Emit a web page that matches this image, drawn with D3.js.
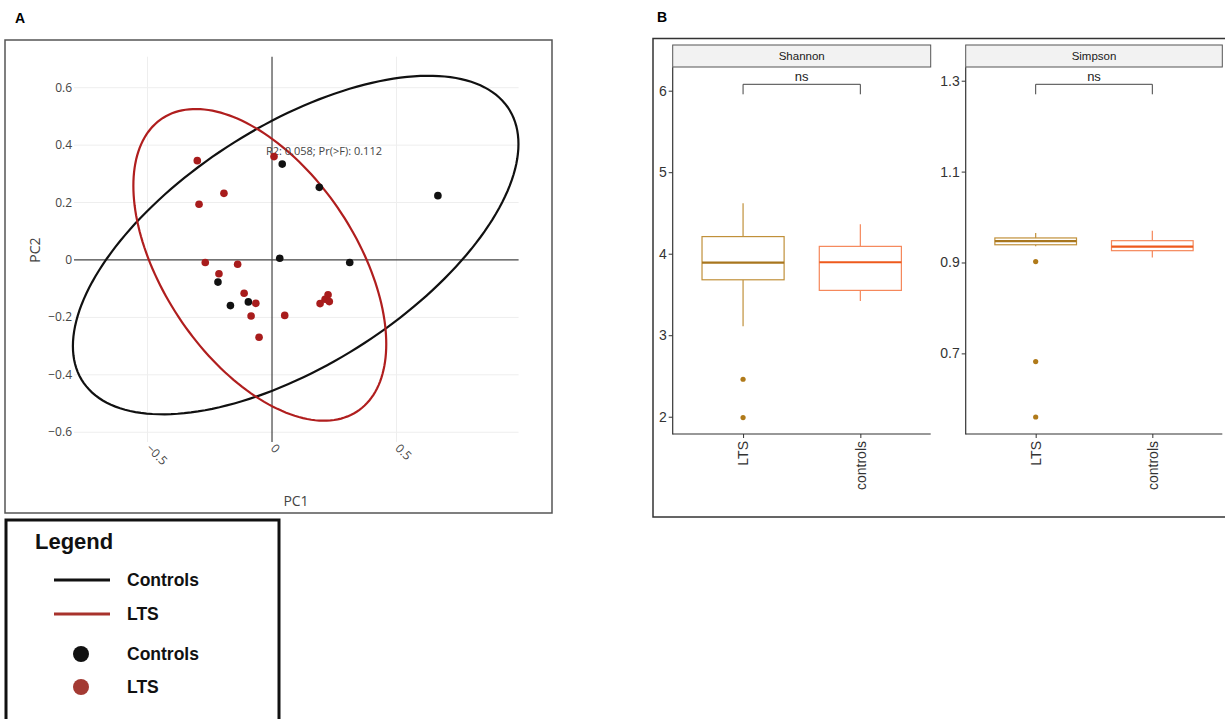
<!DOCTYPE html>
<html>
<head>
<meta charset="utf-8">
<script src="https://cdn.jsdelivr.net/npm/d3@7"></script>
<style>
body { margin: 0; background: #fff; }
svg { display: block; }
</style>
</head>
<body>
<svg id="mainSVG" width="1225" height="719"></svg>
<script>
// ---- data ----
var pcoaTicksX = [-0.5, 0, 0.5];
var pcoaTicksY = [-0.6, -0.4, -0.2, 0, 0.2, 0.4, 0.6];

var ltsPC1 = [-0.300, 0.008, -0.193, -0.293, -0.268, -0.138, -0.213, -0.112, -0.065, -0.084, 0.051, -0.052, 0.193, 0.213, 0.225, 0.230];
var ltsPC2 = [0.346, 0.360, 0.232, 0.194, -0.009, -0.015, -0.048, -0.116, -0.151, -0.195, -0.193, -0.269, -0.152, -0.137, -0.121, -0.145];
var ctlPC1 = [0.041, 0.190, 0.031, 0.312, -0.217, -0.167, -0.095, 0.666];
var ctlPC2 = [0.334, 0.253, 0.006, -0.009, -0.077, -0.159, -0.146, 0.224];

// ellipse: centre x, centre y, var x, cov xy, var y (data units)
var ctlEllipse = [0.095, 0.052, 0.800, 0.3147, 0.3476];
var ltsEllipse = [-0.049, -0.017, 0.2577, -0.1398, 0.2947];

var groups = ["LTS", "controls"];
// whisker low, q1, median, q3, whisker high
var shannonStats = [[3.11, 3.68, 3.89, 4.21, 4.62], [3.42, 3.55, 3.895, 4.09, 4.36]];
var shannonOut = [[2.46, 1.99], []];
var shannonTicks = [2, 3, 4, 5, 6];
var simpsonStats = [[0.936, 0.939, 0.947, 0.954, 0.965], [0.911, 0.926, 0.935, 0.948, 0.970]];
var simpsonOut = [[0.902, 0.682, 0.560], []];
var simpsonTicks = [0.7, 0.9, 1.1, 1.3];

var svg = d3.select("#mainSVG");

// ---------------- panel A ----------------
svg.append("text").attr("x", 15).attr("y", 23)
  .attr("font-family", "Liberation Sans, Arial").attr("font-weight", "bold")
  .attr("font-size", 14).text("A");

svg.append("rect").attr("x", 5).attr("y", 40).attr("width", 547).attr("height", 473)
  .attr("fill", "none").attr("stroke", "#555").attr("stroke-width", 1.5);

var xA = d3.scaleLinear().domain([-0.795, 0.99]).range([74, 518.6]);
var yA = d3.scaleLinear().domain([-0.634, 0.708]).range([442, 56.7]);

var gA = svg.append("g").attr("font-family", "Open Sans, sans-serif");

// grid
gA.selectAll(".gx").data(pcoaTicksX.filter(function(d){ return d != 0; })).enter().append("line")
  .attr("x1", function(d){ return xA(d); }).attr("x2", function(d){ return xA(d); })
  .attr("y1", yA.range()[1]).attr("y2", yA.range()[0])
  .attr("stroke", "#eee").attr("stroke-width", 1);
gA.selectAll(".gy").data(pcoaTicksY.filter(function(d){ return d != 0; })).enter().append("line")
  .attr("x1", xA.range()[0]).attr("x2", xA.range()[1])
  .attr("y1", function(d){ return yA(d); }).attr("y2", function(d){ return yA(d); })
  .attr("stroke", "#eee").attr("stroke-width", 1);

// zero lines
gA.append("line").attr("x1", xA(0)).attr("x2", xA(0)).attr("y1", yA.range()[1]).attr("y2", yA.range()[0])
  .attr("stroke", "#444").attr("stroke-width", 1.2);
gA.append("line").attr("x1", xA.range()[0]).attr("x2", xA.range()[1]).attr("y1", yA(0)).attr("y2", yA(0))
  .attr("stroke", "#444").attr("stroke-width", 1.2);

// tick labels
gA.selectAll(".ty").data(pcoaTicksY).enter().append("text")
  .attr("x", xA.range()[0] - 2).attr("y", function(d){ return yA(d) + 4; })
  .attr("text-anchor", "end").attr("font-size", 12).attr("fill", "#444")
  .text(function(d){ return d == 0 ? "0" : d3.format(".1f")(d).replace("-", "\u2212"); });
gA.selectAll(".tx").data(pcoaTicksX).enter().append("text")
  .attr("transform", function(d){ return "translate(" + (xA(d) - 2) + ",449) rotate(45)"; })
  .attr("font-size", 12).attr("fill", "#444")
  .text(function(d){ return d == 0 ? "0" : d3.format(".1f")(d).replace("-", "\u2212"); });

gA.append("text").attr("x", 296).attr("y", 506).attr("text-anchor", "middle")
  .attr("font-size", 14).attr("fill", "#444").text("PC1");
gA.append("text").attr("transform", "translate(40,250) rotate(-90)").attr("text-anchor", "middle")
  .attr("font-size", 14).attr("fill", "#444").text("PC2");

// ellipses
function ellipsePoints(e){
  var l11 = Math.sqrt(e[2]), l21 = e[3] / l11, l22 = Math.sqrt(e[4] - l21 * l21);
  return d3.range(0, 2 * Math.PI + 0.01, Math.PI / 90).map(function(t){
    return [e[0] + l11 * Math.cos(t), e[1] + l21 * Math.cos(t) + l22 * Math.sin(t)];
  });
}
var ellLine = d3.line().x(function(d){ return xA(d[0]); }).y(function(d){ return yA(d[1]); });
gA.append("path").attr("d", ellLine(ellipsePoints(ctlEllipse)))
  .attr("fill", "none").attr("stroke", "#111").attr("stroke-width", 2.2);
gA.append("path").attr("d", ellLine(ellipsePoints(ltsEllipse)))
  .attr("fill", "none").attr("stroke", "#b01e1e").attr("stroke-width", 2.2);

gA.append("text").attr("x", 266).attr("y", 155).attr("font-size", 11).attr("fill", "#444")
  .text("R2: 0.058; Pr(>F): 0.112");

// points
gA.selectAll(".pl").data(d3.range(ltsPC1.length)).enter().append("circle")
  .attr("cx", function(i){ return xA(ltsPC1[i]); }).attr("cy", function(i){ return yA(ltsPC2[i]); })
  .attr("r", 3.8).attr("fill", "#a81c1c");
gA.selectAll(".pc").data(d3.range(ctlPC1.length)).enter().append("circle")
  .attr("cx", function(i){ return xA(ctlPC1[i]); }).attr("cy", function(i){ return yA(ctlPC2[i]); })
  .attr("r", 3.8).attr("fill", "#111");

// legend
var gL = svg.append("g").attr("font-family", "Liberation Sans, Arial").attr("font-weight", "bold");
gL.append("rect").attr("x", 6).attr("y", 520).attr("width", 273).attr("height", 220)
  .attr("fill", "none").attr("stroke", "#111").attr("stroke-width", 3);
gL.append("text").attr("x", 35).attr("y", 549).attr("font-size", 22).attr("fill", "#111").text("Legend");
var legItems = [
  {type: "line", color: "#111", label: "Controls", y: 580},
  {type: "line", color: "#a8322c", label: "LTS", y: 614},
  {type: "dot", color: "#111", label: "Controls", y: 654},
  {type: "dot", color: "#a33a33", label: "LTS", y: 687}
];
legItems.forEach(function(it){
  if (it.type == "line") {
    gL.append("line").attr("x1", 54).attr("x2", 110).attr("y1", it.y).attr("y2", it.y)
      .attr("stroke", it.color).attr("stroke-width", 3);
  } else {
    gL.append("circle").attr("cx", 81).attr("cy", it.y).attr("r", 8).attr("fill", it.color);
  }
  gL.append("text").attr("x", 127).attr("y", it.y + 6).attr("font-size", 17.5).attr("fill", "#111").text(it.label);
});

// ---------------- panel B ----------------
svg.append("text").attr("x", 657).attr("y", 22)
  .attr("font-family", "Liberation Sans, Arial").attr("font-weight", "bold")
  .attr("font-size", 14).text("B");
svg.append("rect").attr("x", 653).attr("y", 38.5).attr("width", 600).attr("height", 478.5)
  .attr("fill", "none").attr("stroke", "#333").attr("stroke-width", 1.5);

var boxColors = ["#c0903a", "#f5875a"];
var medColors = ["#a8761e", "#ee5a1c"];
var outColor = "#b07a1a";

function facet(x0, x1, domain, ticks, fmt, stats, outs, title){
  var g = svg.append("g").attr("font-family", "Liberation Sans, Arial");
  var y = d3.scaleLinear().domain(domain).range([434, 67.3]);
  var x = d3.scalePoint().domain(groups).range([x0, x1]).padding(0.6);
  var step = x.step(), bw = step * 0.7;

  // strip
  g.append("rect").attr("x", x0).attr("y", 45).attr("width", x1 - x0).attr("height", 22)
    .attr("fill", "#f2f2f2").attr("stroke", "#555").attr("stroke-width", 1);
  g.append("text").attr("x", (x0 + x1) / 2).attr("y", 60).attr("text-anchor", "middle")
    .attr("font-size", 11.5).attr("fill", "#1a1a1a").text(title);

  var ay = g.append("g").attr("transform", "translate(" + x0 + ",0)")
    .call(d3.axisLeft(y).tickValues(ticks).tickFormat(d3.format(fmt)).tickSize(4).tickPadding(2));
  ay.select(".domain").remove();
  ay.selectAll("line").attr("stroke", "#333");
  ay.selectAll("text").attr("font-size", 14).attr("fill", "#333").attr("font-family", "Liberation Sans, Arial");
  var ax = g.append("g").attr("transform", "translate(0,434)")
    .call(d3.axisBottom(x).tickSize(4).tickPadding(2));
  ax.select(".domain").remove();
  ax.selectAll("line").attr("stroke", "#333");
  ax.selectAll("text").attr("font-size", 14).attr("fill", "#333").attr("font-family", "Liberation Sans, Arial")
    .attr("transform", "rotate(-90)").attr("text-anchor", "end").attr("dy", "0.35em").attr("x", -7).attr("y", 0);

  g.append("line").attr("x1", x0).attr("x2", x0).attr("y1", 67.3).attr("y2", 434.5)
    .attr("stroke", "#333").attr("stroke-width", 1.2);
  g.append("line").attr("x1", x0).attr("x2", x1).attr("y1", 434).attr("y2", 434)
    .attr("stroke", "#333").attr("stroke-width", 1.2);

  groups.forEach(function(gr, i){
    var s = stats[i], cx = x(gr);
    g.append("line").attr("x1", cx).attr("x2", cx).attr("y1", y(s[0])).attr("y2", y(s[1]))
      .attr("stroke", boxColors[i]).attr("stroke-width", 1.2);
    g.append("line").attr("x1", cx).attr("x2", cx).attr("y1", y(s[3])).attr("y2", y(s[4]))
      .attr("stroke", boxColors[i]).attr("stroke-width", 1.2);
    g.append("rect").attr("x", cx - bw / 2).attr("y", y(s[3])).attr("width", bw).attr("height", y(s[1]) - y(s[3]))
      .attr("fill", "#fff").attr("stroke", boxColors[i]).attr("stroke-width", 1.2);
    g.append("line").attr("x1", cx - bw / 2).attr("x2", cx + bw / 2).attr("y1", y(s[2])).attr("y2", y(s[2]))
      .attr("stroke", medColors[i]).attr("stroke-width", 2.2);
    g.selectAll(".o" + i).data(outs[i]).enter().append("circle")
      .attr("cx", cx).attr("cy", function(d){ return y(d); }).attr("r", 2.6).attr("fill", outColor);
  });

  // significance bracket
  var xa = x(groups[0]), xb = x(groups[1]);
  g.append("path").attr("d", "M" + xa + ",94.3V84.3H" + xb + "V94.3")
    .attr("fill", "none").attr("stroke", "#444").attr("stroke-width", 1);
  g.append("text").attr("x", (xa + xb) / 2).attr("y", 81).attr("text-anchor", "middle")
    .attr("font-size", 13).attr("fill", "#222").text("ns");
}

facet(672.7, 930.7, [1.788, 6.287], shannonTicks, "d", shannonStats, shannonOut, "Shannon");
facet(965.7, 1222.3, [0.5226, 1.3295], simpsonTicks, ".1f", simpsonStats, simpsonOut, "Simpson");
</script>
</body>
</html>
